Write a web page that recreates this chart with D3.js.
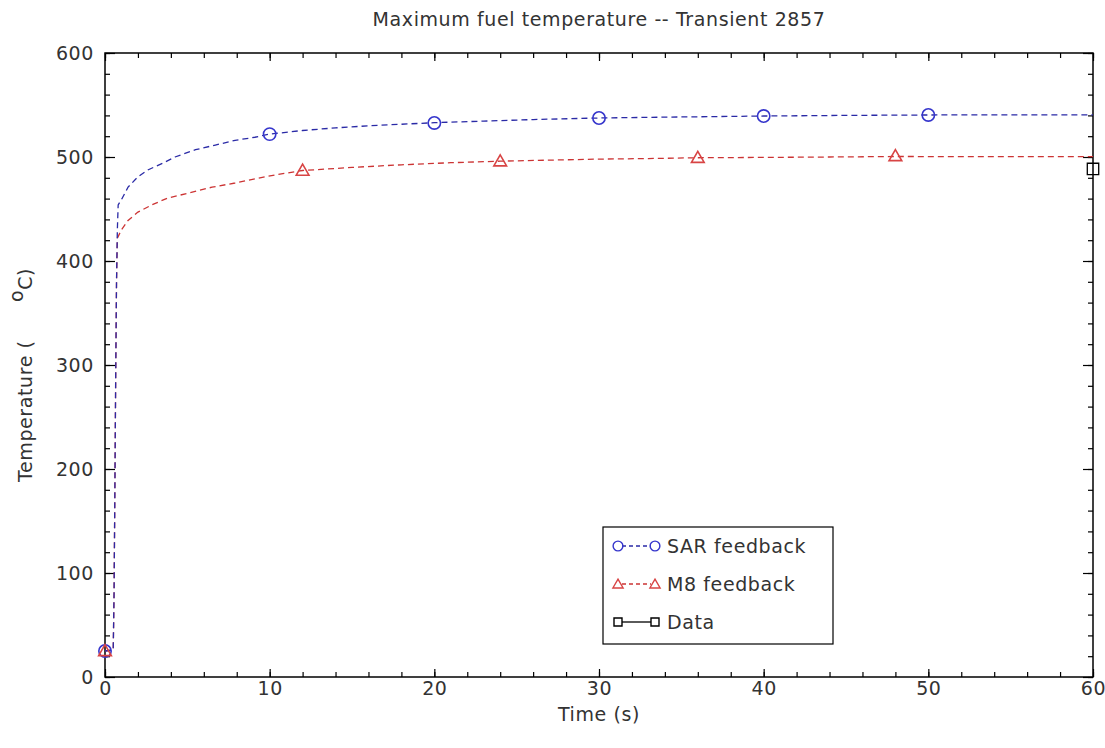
<!DOCTYPE html>
<html>
<head>
<meta charset="utf-8">
<script src="https://d3js.org/d3.v7.min.js"></script>
<style>
  body { margin: 0; background: #fff; }
  svg { display: block; font-family: "DejaVu Sans", sans-serif; }
</style>
</head>
<body>
<svg id="chart" width="1105" height="748"></svg>
<script>
// Simulated maximum fuel temperature (deg C) versus time (s)
const sarTime  = [0, 0.5, 0.55, 0.6, 0.65, 0.7, 0.75, 0.8, 1.0, 1.4, 2.0, 2.6, 3.5, 4.25, 5.5, 6.7, 7.9, 9.1, 10, 12, 14, 16, 18, 20, 23, 26, 30, 35, 40, 45, 50, 55, 60];
const sarTemp  = [25, 26, 80, 180, 290, 380, 430, 454, 459, 471, 481, 487.5, 494, 500, 507, 511.5, 516, 519, 522, 525.5, 528, 530, 531.5, 533, 534.5, 536, 537.5, 538.5, 539.4, 540, 540.4, 540.5, 540.5];
const m8Time   = [0, 0.5, 0.55, 0.6, 0.65, 0.7, 0.75, 1.0, 1.4, 2.0, 2.85, 3.8, 5.0, 6.5, 7.9, 9.1, 10.3, 12, 15, 18, 21, 24, 27, 30, 33, 36, 40, 44, 48, 54, 60];
const m8Temp   = [25, 26, 80, 180, 290, 380, 422, 430, 439, 447, 454, 460.5, 465, 471, 475, 479, 482.7, 487, 490, 492.5, 494.5, 496, 497, 498, 498.5, 499.3, 499.6, 500, 500.5, 500.3, 500.3];

// Marker positions along each curve
const sarMarkTime = [0, 10, 20, 30, 40, 50];
const sarMarkTemp = [25, 522, 532.7, 537.5, 539.4, 540.4];
const m8MarkTime  = [0, 12, 24, 36, 48];
const m8MarkTemp  = [25, 487, 496, 499.3, 501];

// Measured value
const dataTime = [60];
const dataTemp = [488.5];

const xTicks = [0, 10, 20, 30, 40, 50, 60];
const yTicks = [0, 100, 200, 300, 400, 500, 600];
const legendLabels = ["SAR feedback", "M8 feedback", "Data"];

const svg = d3.select("#chart");
const plotLeft = 105, plotRight = 1093, plotTop = 53, plotBottom = 677;

const x = d3.scaleLinear().domain([0, 60]).range([plotLeft, plotRight]);
const y = d3.scaleLinear().domain([0, 600]).range([plotBottom, plotTop]);

const sarLine = "#2a2aa6", sarMark = "#3535cc";
const m8Line = "#cc3434", m8Mark = "#d84444";
const textColor = "#333";
const fontSize = 19, spacing = 0.6;

// Title
svg.append("text")
  .attr("x", (plotLeft + plotRight) / 2).attr("y", 26)
  .attr("text-anchor", "middle")
  .attr("font-size", fontSize).attr("letter-spacing", spacing).attr("fill", textColor)
  .text("Maximum fuel temperature -- Transient 2857");

// Clip region for the plotted series
svg.append("clipPath").attr("id", "plotClip")
  .append("rect").attr("x", plotLeft).attr("y", plotTop)
  .attr("width", plotRight - plotLeft).attr("height", plotBottom - plotTop);

// Axes: labelled ticks on bottom/left, mirrored ticks on top/right, all pointing inward
function styleAxis(g) {
  g.select(".domain").remove();
  g.selectAll("line").attr("stroke", "#000").attr("stroke-width", 1.2);
  g.selectAll("text").attr("font-size", fontSize).attr("letter-spacing", spacing)
    .attr("fill", textColor).attr("font-family", "DejaVu Sans, sans-serif");
}
const xMinor = d3.range(0, 61, 2);
const yMinor = d3.range(0, 601, 20);

svg.append("g").attr("transform", `translate(0,${plotBottom})`)
  .call(d3.axisBottom(x).tickValues(xMinor).tickSize(-5).tickFormat(""))
  .call(styleAxis);
svg.append("g").attr("transform", `translate(0,${plotBottom})`)
  .call(d3.axisBottom(x).tickValues(xTicks).tickSize(-8).tickPadding(5).tickFormat(d3.format("d")))
  .call(styleAxis);
svg.append("g").attr("transform", `translate(0,${plotTop})`)
  .call(d3.axisTop(x).tickValues(xMinor).tickSize(-5).tickFormat(""))
  .call(styleAxis);
svg.append("g").attr("transform", `translate(0,${plotTop})`)
  .call(d3.axisTop(x).tickValues(xTicks).tickSize(-8).tickFormat(""))
  .call(styleAxis);

svg.append("g").attr("transform", `translate(${plotLeft},0)`)
  .call(d3.axisLeft(y).tickValues(yMinor).tickSize(-5).tickFormat(""))
  .call(styleAxis);
svg.append("g").attr("transform", `translate(${plotLeft},0)`)
  .call(d3.axisLeft(y).tickValues(yTicks).tickSize(-10).tickPadding(11).tickFormat(d3.format("d")))
  .call(styleAxis);
svg.append("g").attr("transform", `translate(${plotRight},0)`)
  .call(d3.axisRight(y).tickValues(yMinor).tickSize(-5).tickFormat(""))
  .call(styleAxis);
svg.append("g").attr("transform", `translate(${plotRight},0)`)
  .call(d3.axisRight(y).tickValues(yTicks).tickSize(-10).tickFormat(""))
  .call(styleAxis);

// Frame
svg.append("rect")
  .attr("x", plotLeft).attr("y", plotTop)
  .attr("width", plotRight - plotLeft).attr("height", plotBottom - plotTop)
  .attr("fill", "none").attr("stroke", "#000").attr("stroke-width", 1.5);

// Axis titles
svg.append("text")
  .attr("x", (plotLeft + plotRight) / 2).attr("y", 721)
  .attr("text-anchor", "middle").attr("font-size", fontSize).attr("letter-spacing", spacing)
  .attr("fill", textColor)
  .text("Time (s)");

const yl = svg.append("text")
  .attr("transform", "translate(32,482) rotate(-90)")
  .attr("font-size", fontSize).attr("letter-spacing", spacing).attr("fill", textColor);
yl.append("tspan").attr("x", 0).text("Temperature (");
yl.append("tspan").attr("x", 180).attr("dy", -9).text("o");
yl.append("tspan").attr("dy", 9).text("C)");

// Series curves
const line = d3.line().x(d => x(d[0])).y(d => y(d[1]));
const plot = svg.append("g").attr("clip-path", "url(#plotClip)");

plot.append("path")
  .datum(m8Time.map((t, i) => [t, m8Temp[i]]))
  .attr("d", line).attr("fill", "none")
  .attr("stroke", m8Line).attr("stroke-width", 1.3).attr("stroke-dasharray", "6,4");
plot.append("path")
  .datum(sarTime.map((t, i) => [t, sarTemp[i]]))
  .attr("d", line).attr("fill", "none")
  .attr("stroke", sarLine).attr("stroke-width", 1.3).attr("stroke-dasharray", "6,4");

// Marker symbols
const circleSym = d3.symbol().type(d3.symbolCircle).size(120);
const triSym = d3.symbol().type(d3.symbolTriangle).size(70);
const sqSym = d3.symbol().type(d3.symbolSquare).size(130);

const markers = svg.append("g");
markers.selectAll(".sar").data(sarMarkTime.map((t, i) => [t, sarMarkTemp[i]]))
  .join("path").attr("class", "sar")
  .attr("transform", d => `translate(${x(d[0])},${y(d[1])})`)
  .attr("d", circleSym).attr("fill", "none").attr("stroke", sarMark).attr("stroke-width", 1.6);
markers.selectAll(".m8").data(m8MarkTime.map((t, i) => [t, m8MarkTemp[i]]))
  .join("path").attr("class", "m8")
  .attr("transform", d => `translate(${x(d[0])},${y(d[1]) + 1})`)
  .attr("d", triSym).attr("fill", "none").attr("stroke", m8Mark).attr("stroke-width", 1.6);
markers.selectAll(".obs").data(dataTime.map((t, i) => [t, dataTemp[i]]))
  .join("path").attr("class", "obs")
  .attr("transform", d => `translate(${x(d[0])},${y(d[1])})`)
  .attr("d", sqSym).attr("fill", "none").attr("stroke", "#000").attr("stroke-width", 1.3);

// Legend
const lg = svg.append("g");
lg.append("rect").attr("x", 603).attr("y", 527).attr("width", 230).attr("height", 117)
  .attr("fill", "#fff").attr("stroke", "#000").attr("stroke-width", 1.2);
const legendItems = [
  { label: legendLabels[0], color: sarMark, lcolor: sarLine, sym: d3.symbol().type(d3.symbolCircle).size(75), dash: "4,3", dy: 0 },
  { label: legendLabels[1], color: m8Mark, lcolor: m8Line, sym: d3.symbol().type(d3.symbolTriangle).size(45), dash: "4,3", dy: 1 },
  { label: legendLabels[2], color: "#000", lcolor: "#000", sym: d3.symbol().type(d3.symbolSquare).size(64), dash: null, dy: 0 }
];
legendItems.forEach((it, i) => {
  const cy = 546 + i * 38;
  lg.append("line").attr("x1", 622).attr("x2", 651).attr("y1", cy).attr("y2", cy)
    .attr("stroke", it.lcolor).attr("stroke-width", 1.3)
    .attr("stroke-dasharray", it.dash);
  [618, 655].forEach(px => {
    lg.append("path").attr("transform", `translate(${px},${cy + it.dy})`)
      .attr("d", it.sym).attr("fill", "none").attr("stroke", it.color).attr("stroke-width", 1.4);
  });
  lg.append("text").attr("x", 667).attr("y", cy + 7)
    .attr("font-size", fontSize).attr("letter-spacing", spacing).attr("fill", textColor).text(it.label);
});
</script>
</body>
</html>
